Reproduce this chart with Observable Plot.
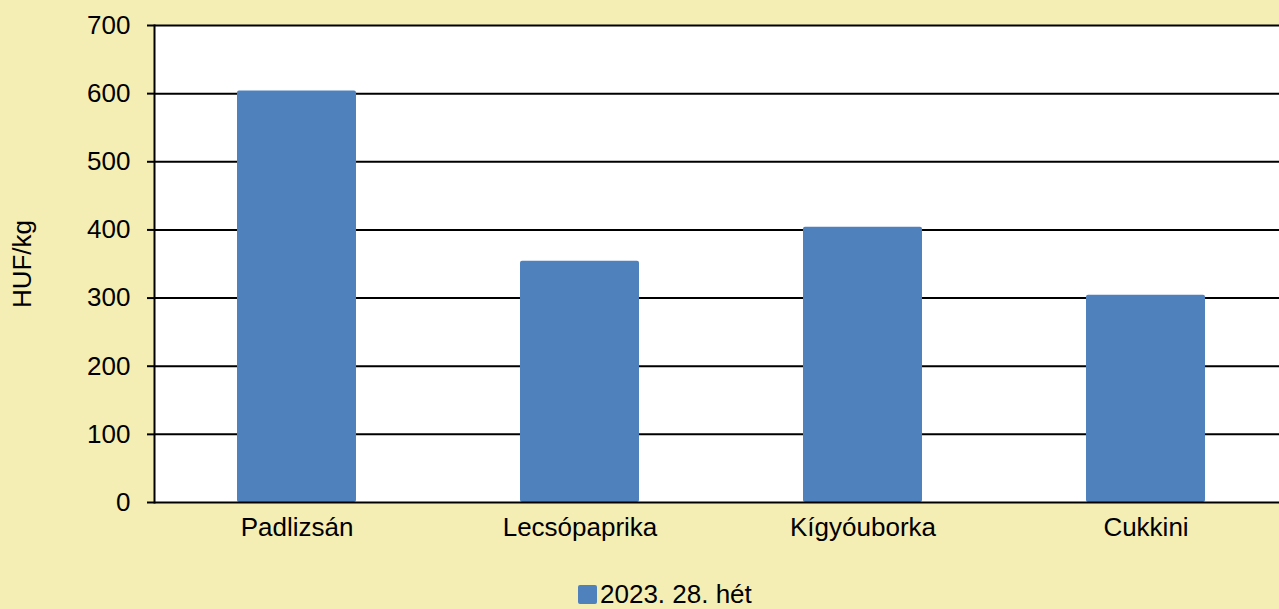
<!DOCTYPE html>
<html>
<head>
<meta charset="utf-8">
<script src="https://cdn.jsdelivr.net/npm/d3@7"></script>
<script src="https://cdn.jsdelivr.net/npm/@observablehq/plot@0.6"></script>
<style>
  html, body { margin: 0; padding: 0; background: #F4EEB4; width: 1279px; height: 609px; overflow: hidden; position: relative; }
  #chart { position: absolute; left: 0; top: 0; }
  #legend-sw { position: absolute; left: 578px; top: 585px; width: 19px; height: 19px; background: #4F81BD; border-radius: 2px; }
  #legend-text { position: absolute; left: 600px; top: 581px; font-family: "Liberation Sans", Arial, sans-serif; font-size: 26px; line-height: 26px; color: #000; white-space: nowrap; }
</style>
</head>
<body>
<div id="chart"></div>
<div id="legend-sw"></div>
<div id="legend-text"></div>
<script>
const categories = ["Padlizsán", "Lecsópaprika", "Kígyóuborka", "Cukkini"];
const values = [604, 354, 404, 304];
const seriesName = "2023. 28. hét";
const yTicks = [0, 100, 200, 300, 400, 500, 600, 700];
const yLabel = "HUF/kg";

const data = categories.map((c, i) => ({ category: c, value: values[i] }));

const chart = Plot.plot({
  width: 1279,
  height: 575,
  marginLeft: 154,
  marginRight: 0,
  marginTop: 25,
  marginBottom: 73,
  style: { background: "transparent", fontFamily: "Liberation Sans, Arial, sans-serif", fontSize: "26px", color: "#000", overflow: "visible" },
  x: { domain: categories, range: [154, 1288], paddingInner: 0.58, paddingOuter: 0.29 },
  y: { domain: [0, 700] },
  marks: [
    Plot.frame({ fill: "white", stroke: null }),
    Plot.ruleY(yTicks.filter(d => d > 0), { stroke: "black", strokeWidth: 2 }),
    Plot.barY(data, { x: "category", y: "value", fill: "#4F81BD", rx: 2 }),
    Plot.ruleY([0], { stroke: "black", strokeWidth: 2 }),
    Plot.frame({ anchor: "left", stroke: "black", strokeWidth: 2 }),
    Plot.axisY({ ticks: yTicks, tickSize: 7, tickPadding: 17, strokeWidth: 2, label: yLabel, labelAnchor: "center", labelArrow: "none", labelOffset: 142, fontSize: 26 }),
    Plot.axisX({ tickSize: 0, tickPadding: 15, label: null, fontSize: 26 })
  ]
});
document.getElementById("chart").appendChild(chart);
document.getElementById("legend-text").textContent = seriesName;
</script>
</body>
</html>
